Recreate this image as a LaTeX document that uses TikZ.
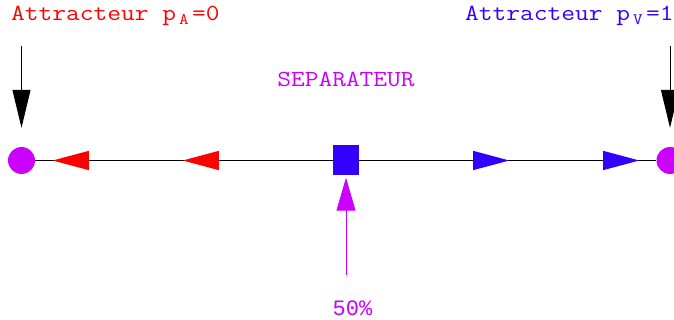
\documentclass[tikz,border=0pt]{standalone}
\usepackage{fontspec}
\usetikzlibrary{arrows.meta,decorations.markings}
\newfontfamily\courfont[FakeStretch=1.16]{Latin Modern Mono}
\newfontfamily\pctfont{Liberation Mono}
\definecolor{attrred}{HTML}{FF0000}
\definecolor{attrblue}{HTML}{3300FF}
\definecolor{sepmag}{HTML}{CC00FF}
\newcommand\subtxt[1]{\hspace{3pt}\raisebox{-4pt}{\fontsize{16}{16}\selectfont#1}\hspace{3.5pt}}
\begin{document}
\begin{tikzpicture}[x=1pt,y=-1pt,
  attractor/.style={circle,fill=sepmag,minimum size=27pt,inner sep=0pt},
  separator/.style={rectangle,fill=attrblue,minimum width=26pt,minimum height=30pt,inner sep=0pt},
  lbl/.style={font=\courfont\fontsize{23}{26}\selectfont,inner sep=0pt},
  flow/.style={line width=1.2pt,postaction={decorate},
    decoration={markings,
      mark=at position 150pt with {\arrow[#1]{Triangle[length=36pt,width=19pt]}},
      mark=at position 280pt with {\arrow[#1]{Triangle[length=36pt,width=19pt]}}}},
  drop/.style={line width=1pt,-{Triangle[length=38pt,width=18pt]},shorten >=19pt},
  push/.style={sepmag,line width=1pt,-{Triangle[length=33pt,width=19pt]},shorten >=2pt}]
  \clip (0,0) rectangle (674,320);
  \useasboundingbox (0,0) rectangle (674,320);
  % attracteurs et separateur
  \node[attractor] (attrA) at (21.5,160.5) {};
  \node[attractor] (attrV) at (670,160.5) {};
  \node[separator] (sep) at (346,160.5) {};
  % textes
  \node[lbl,attrred,anchor=base west] (labA) at (11,21) {Attracteur p\subtxt{A}=0};
  \node[lbl,attrblue,anchor=base west] (labV) at (465,21) {Attracteur p\subtxt{V}=1};
  \node[lbl,sepmag,anchor=base] (labS) at (346,86.5) {SEPARATEUR};
  \node[sepmag,anchor=base,inner sep=0pt,font=\pctfont\fontsize{22}{24}\selectfont] (pct) at (352.5,315) {50\%};
  \coordinate (topA) at (21.5,46);
  \coordinate (topV) at (670,46);
  \coordinate (pctTop) at (346,275);
  % fleches
  \draw[flow=attrred] (sep) -- (attrA);
  \draw[flow=attrblue] (sep) -- (attrV);
  \draw[drop] (topA) -- (attrA);
  \draw[drop] (topV) -- (attrV);
  \draw[push] (pctTop) -- (sep);
\end{tikzpicture}
\end{document}
